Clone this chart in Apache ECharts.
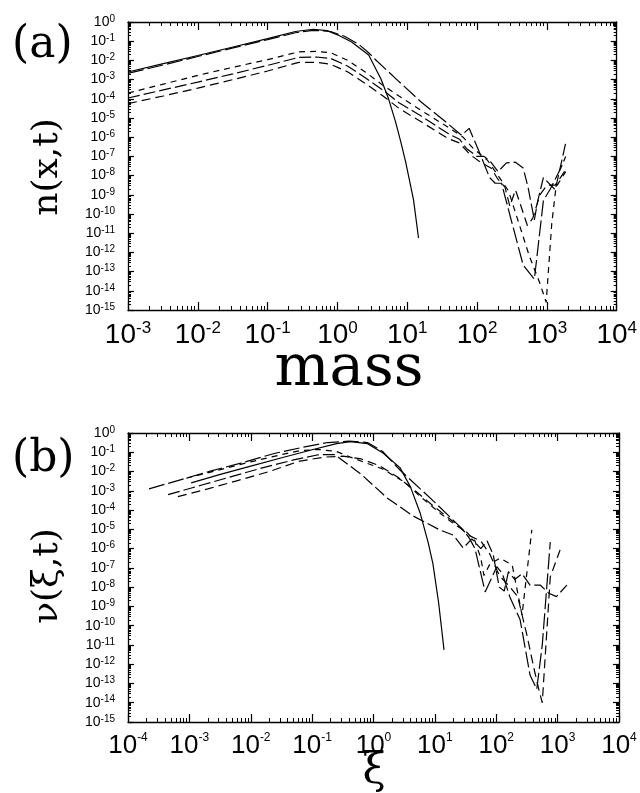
<!DOCTYPE html>
<html><head><meta charset="utf-8">
<script src="https://cdn.jsdelivr.net/npm/echarts@6/dist/echarts.min.js"></script>
<style>html,body{margin:0;padding:0;background:#fff}#c{width:640px;height:793px}</style>
</head><body><div id="c"></div>
<script>
// ---------- tick values ----------
const xMajorA = [1e-3, 1e-2, 1e-1, 1, 10, 100, 1000, 10000];
const xMajorB = [1e-4, 1e-3, 1e-2, 1e-1, 1, 10, 100, 1000, 10000];
const yMajor = [1e-15,1e-14,1e-13,1e-12,1e-11,1e-10,1e-9,1e-8,1e-7,1e-6,1e-5,1e-4,1e-3,1e-2,1e-1,1];
const minorMult = [2,3,4,5,6,7,8,9];

// ---------- panel (a): n(x,t) vs mass ----------
const a_solid = [[1e-3,2.5e-3],[3.2e-3,6.8e-3],[1e-2,1.8e-2],[3.2e-2,5.0e-2],[0.1,0.135],[0.25,0.32],[0.45,0.42],[0.71,0.355],[1.05,0.2],[1.6,0.091],[2.8,1.9e-2],[4.2,1.07e-3],[5.4,1e-4],[6.8,6.3e-6],[8.1,5.6e-7],[9.5,5.0e-8],[12.3,5.4e-10],[14.5,5.6e-12]];
const a_longdash = [[1e-3,2.1e-3],[3.2e-3,5.8e-3],[1e-2,1.6e-2],[3.2e-2,4.5e-2],[0.1,0.12],[0.25,0.275],[0.45,0.37],[0.8,0.32],[1.26,0.18],[2.0,0.071],[2.8,0.025],[3.55,1.05e-2],[7.6,7.9e-4],[15.8,6.8e-5],[33,7.9e-6],[60,1.26e-6],[77,2.9e-6],[105,2.1e-7],[151,7.9e-9],[182,4.0e-9],[224,4.0e-9],[295,8.9e-11],[457,2.2e-13],[661,4.0e-14],[891,5.0e-10],[1120,2.0e-9],[1585,2.5e-8],[1860,1.0e-7]];
const a_shortdash = [[1e-3,2.0e-4],[3.2e-3,5.8e-4],[1e-2,1.66e-3],[3.2e-2,4.4e-3],[0.1,1.1e-2],[0.28,2.8e-2],[0.5,2.95e-2],[0.8,2.5e-2],[1.41,1.0e-2],[2.5,2.5e-3],[4.5,5.0e-4],[7.6,1.4e-4],[15.8,2.5e-5],[39,3.2e-6],[63,1.0e-6],[89,2.5e-7],[141,6.3e-8],[200,1.0e-8],[282,1.6e-9],[398,3.2e-11],[562,6.3e-13],[794,2.5e-14],[977,2.5e-15],[1175,3.2e-11],[1350,2.5e-9],[1860,1.6e-8]];
const a_dashdot = [[1e-3,1.1e-4],[3.2e-3,2.9e-4],[1e-2,7.4e-4],[3.2e-2,2.0e-3],[0.1,5.5e-3],[0.28,1.45e-2],[0.5,1.5e-2],[0.8,1.26e-2],[1.41,5.0e-3],[2.5,1.26e-3],[4.5,2.8e-4],[7.6,6.3e-5],[15.8,1.26e-5],[39,1.5e-6],[56,7.9e-7],[71,2.5e-7],[100,1.0e-7],[126,1.0e-7],[158,5.0e-8],[200,1.6e-8],[263,4.6e-8],[355,5.0e-8],[457,2.5e-8],[537,2.5e-9],[661,5.0e-11],[741,5.0e-10],[891,7.9e-9],[1318,1.8e-9],[1860,5.0e-7]];
const a_dash = [[1e-3,5.6e-5],[3.2e-3,1.4e-4],[1e-2,3.6e-4],[3.2e-2,1.0e-3],[0.1,2.8e-3],[0.28,7.9e-3],[0.5,7.9e-3],[0.8,6.3e-3],[1.41,2.5e-3],[2.5,6.3e-4],[4.5,1.4e-4],[7.6,3.2e-5],[15.8,6.3e-6],[39,8.3e-7],[56,5.0e-7],[79,1.26e-7],[112,5.0e-8],[158,2.5e-8],[200,6.3e-9],[251,2.5e-9],[295,2.5e-10],[355,1.8e-9],[417,3.2e-10],[525,2.5e-11],[631,6.3e-11],[794,1.0e-9],[1000,3.2e-9],[1318,3.2e-9],[1860,2.0e-8]];

// ---------- panel (b): nu(xi,t) vs xi ----------
const b_solid = [[1.07e-3,2.6e-3],[3.2e-3,7.1e-3],[1e-2,1.9e-2],[3.2e-2,5.2e-2],[0.1,0.135],[0.25,0.28],[0.42,0.355],[0.8,0.28],[1.43,0.091],[2.7,1.6e-2],[4.0,1.6e-3],[5.75,7.1e-5],[7.8,2.0e-6],[9.3,1.6e-7],[11.5,1.6e-9],[14.1,5.5e-12]];
const b_longdash = [[2.2e-4,1.26e-3],[6.9e-4,3.6e-3],[2.2e-3,1.05e-2],[6.9e-3,2.75e-2],[2.5e-2,8.9e-2],[7.6e-2,0.19],[0.18,0.32],[0.4,0.38],[0.8,0.32],[1.41,0.11],[2.7,1.2e-2],[10,2.5e-4],[29,9.3e-6],[37,3.2e-6],[45,1.0e-6],[66,5.6e-9],[102,1.15e-7],[126,5.0e-8],[166,3.2e-9],[245,2.0e-10],[355,2.75e-13],[457,5.0e-14],[562,1.0e-11],[759,2.2e-6]];
const b_shortdash = [[8.9e-4,4.5e-3],[3.2e-3,1.26e-2],[1e-2,3.2e-2],[3.2e-2,7.6e-2],[6.3e-2,0.12],[0.126,0.14],[0.25,0.11],[0.42,5.6e-2],[1.41,1.35e-2],[3.2,2.8e-3],[6.3,4.0e-4],[12.6,6.3e-5],[22,1.6e-5],[32,7.9e-6],[45,2.5e-6],[56,3.2e-7],[63,4.0e-8],[79,1.6e-7],[115,3.2e-7],[182,1.4e-7],[263,3.6e-10],[380,9.3e-6]];
const b_dashdot = [[4.5e-4,6.3e-4],[1.6e-3,2.0e-3],[5.0e-3,5.6e-3],[1.6e-2,1.6e-2],[5.0e-2,4.0e-2],[0.126,7.4e-2],[0.234,7.6e-2],[0.65,6.6e-3],[1.66,4.3e-4],[4.4,5.0e-5],[12,9.3e-6],[20,5.0e-6],[29,1.07e-6],[40,3.2e-6],[56,1.0e-6],[71,2.5e-6],[89,5.0e-7],[112,1.0e-8],[135,6.3e-9],[158,6.3e-8],[200,2.5e-8],[263,5.0e-8],[355,1.26e-8],[525,1.26e-8],[708,5.0e-9],[955,3.2e-9],[1413,1.26e-8]];
const b_dash = [[6.5e-4,5.0e-4],[2.0e-3,1.26e-3],[6.3e-3,3.5e-3],[2.0e-2,1.0e-2],[6.3e-2,3.5e-2],[0.16,5.6e-2],[0.32,6.3e-2],[0.63,4.5e-2],[1.26,2.0e-2],[2.5,5.0e-3],[5.0,8.9e-4],[10,1.4e-4],[20,2.5e-5],[35,5.0e-6],[56,2.5e-6],[79,5.0e-7],[112,4.0e-8],[158,1.26e-8],[224,3.2e-9],[316,3.2e-11],[417,5.0e-13],[501,4.0e-14],[562,1.0e-14],[759,3.4e-8],[1096,8.5e-7]];

// ---------- labels ----------
const panelLabels = ['(a)', '(b)'];
const xNames = ['mass', 'ξ'];
const yNames = ['n(x,t)', 'ν(ξ,t)'];

// ---------- styles ----------
const dashStyles = {
  solid: 'solid',
  longdash: [16, 4],
  shortdash: [6, 5],
  dashdot: [12, 4],
  dash: [9, 5]
};
const SANS = 'Liberation Sans, Arial, sans-serif';
const SERIF = 'DejaVu Serif, serif';

function minorsFor(majors) {
  const out = [];
  for (let i = 0; i < majors.length - 1; i++) minorMult.forEach(m => out.push(majors[i] * m));
  return out;
}
function expOf(v) { return Math.round(Math.log10(v)); }

const grids = [
  { left: 128, top: 22, width: 491, height: 288 },
  { left: 128, top: 433, width: 491, height: 289 }
];

const xAxes = [], yAxes = [];
function addAxes(gi, xMajor, xLabelRich, xMargin) {
  const xmin = xMajor[0], xmax = xMajor[xMajor.length - 1];
  const xMin = minorsFor(xMajor), yMin = minorsFor(yMajor);
  const baseLine = { show: true, lineStyle: { color: '#000', width: 1.3 } };
  xAxes.push({ type: 'log', logBase: 10, gridIndex: gi, min: xmin, max: xmax, position: 'bottom',
    axisLine: baseLine, splitLine: { show: false },
    axisTick: { show: true, inside: true, length: 8, customValues: xMajor, lineStyle: { color: '#000', width: 1.2 } },
    axisLabel: { show: true, customValues: xMajor, margin: xMargin,
      formatter: v => '{b|10}{s|' + expOf(v) + '}', rich: xLabelRich } });
  xAxes.push({ type: 'log', logBase: 10, gridIndex: gi, min: xmin, max: xmax, position: 'bottom',
    axisLine: { show: false }, splitLine: { show: false }, axisLabel: { show: false },
    axisTick: { show: true, inside: true, length: 4, customValues: xMin, lineStyle: { color: '#000', width: 1 } } });
  xAxes.push({ type: 'log', logBase: 10, gridIndex: gi, min: xmin, max: xmax, position: 'top',
    axisLine: baseLine, splitLine: { show: false }, axisLabel: { show: false },
    axisTick: { show: true, inside: true, length: 8, customValues: xMajor, lineStyle: { color: '#000', width: 1.2 } } });
  xAxes.push({ type: 'log', logBase: 10, gridIndex: gi, min: xmin, max: xmax, position: 'top',
    axisLine: { show: false }, splitLine: { show: false }, axisLabel: { show: false },
    axisTick: { show: true, inside: true, length: 4, customValues: xMin, lineStyle: { color: '#000', width: 1 } } });
  yAxes.push({ type: 'log', logBase: 10, gridIndex: gi, min: 1e-15, max: 1, position: 'left',
    axisLine: baseLine, splitLine: { show: false },
    axisTick: { show: true, inside: true, length: 6, customValues: yMajor, lineStyle: { color: '#000', width: 1.2 } },
    axisLabel: { show: true, customValues: yMajor, margin: 13, align: 'right',
      formatter: v => '{b|10}{s|' + expOf(v) + '}',
      rich: { b: { fontFamily: SANS, fontSize: 14, color: '#000', lineHeight: 16 },
              s: { fontFamily: SANS, fontSize: 10, color: '#000', verticalAlign: 'top', lineHeight: 16 } } } });
  yAxes.push({ type: 'log', logBase: 10, gridIndex: gi, min: 1e-15, max: 1, position: 'left',
    axisLine: { show: false }, splitLine: { show: false }, axisLabel: { show: false },
    axisTick: { show: true, inside: true, length: 3, customValues: yMin, lineStyle: { color: '#000', width: 1 } } });
  yAxes.push({ type: 'log', logBase: 10, gridIndex: gi, min: 1e-15, max: 1, position: 'right',
    axisLine: baseLine, splitLine: { show: false }, axisLabel: { show: false },
    axisTick: { show: true, inside: true, length: 6, customValues: yMajor, lineStyle: { color: '#000', width: 1.2 } } });
  yAxes.push({ type: 'log', logBase: 10, gridIndex: gi, min: 1e-15, max: 1, position: 'right',
    axisLine: { show: false }, splitLine: { show: false }, axisLabel: { show: false },
    axisTick: { show: true, inside: true, length: 3, customValues: yMin, lineStyle: { color: '#000', width: 1 } } });
}
addAxes(0, xMajorA, {
  b: { fontFamily: SANS, fontSize: 28, color: '#000', lineHeight: 30 },
  s: { fontFamily: SANS, fontSize: 17, color: '#000', verticalAlign: 'top', lineHeight: 30 } }, 10);
addAxes(1, xMajorB, {
  b: { fontFamily: SANS, fontSize: 26, color: '#000', lineHeight: 28 },
  s: { fontFamily: SANS, fontSize: 12, color: '#000', verticalAlign: 'top', lineHeight: 28 } }, 10);

function mkSeries(data, style, xi, yi) {
  return { type: 'line', data: data, xAxisIndex: xi, yAxisIndex: yi, showSymbol: false, symbol: 'none',
    silent: true, clip: true, lineStyle: { color: '#000', width: 1.2, type: dashStyles[style] } };
}
const series = [
  mkSeries(a_solid, 'solid', 0, 0), mkSeries(a_longdash, 'longdash', 0, 0),
  mkSeries(a_shortdash, 'shortdash', 0, 0), mkSeries(a_dashdot, 'dashdot', 0, 0), mkSeries(a_dash, 'dash', 0, 0),
  mkSeries(b_solid, 'solid', 4, 4), mkSeries(b_longdash, 'longdash', 4, 4),
  mkSeries(b_shortdash, 'shortdash', 4, 4), mkSeries(b_dashdot, 'dashdot', 4, 4), mkSeries(b_dash, 'dash', 4, 4)
];

const graphic = [
  { type: 'text', left: 12, top: 24, style: { text: panelLabels[0], font: '44px ' + SERIF, fill: '#000' } },
  { type: 'text', left: 12, top: 438, style: { text: panelLabels[1], font: '44px ' + SERIF, fill: '#000' } },
  { type: 'text', x: 48, y: 167, rotation: Math.PI / 2, style: { text: yNames[0], font: '36px ' + SERIF, fill: '#000', align: 'center', verticalAlign: 'middle' } },
  { type: 'text', x: 48, y: 576, rotation: Math.PI / 2, style: { text: yNames[1], font: '36px ' + SERIF, fill: '#000', align: 'center', verticalAlign: 'middle' } },
  { type: 'text', x: 349, y: 370, style: { text: xNames[0], font: '58px ' + SERIF, fill: '#000', align: 'center', verticalAlign: 'middle' } },
  { type: 'text', x: 374, y: 772, style: { text: xNames[1], font: '42px ' + SERIF, fill: '#000', align: 'center', verticalAlign: 'middle' } }
];

const chart = echarts.init(document.getElementById('c'), null, { renderer: 'canvas' });
chart.setOption({ animation: false, backgroundColor: '#fff', grid: grids, xAxis: xAxes, yAxis: yAxes, series: series, graphic: graphic });
</script></body></html>
